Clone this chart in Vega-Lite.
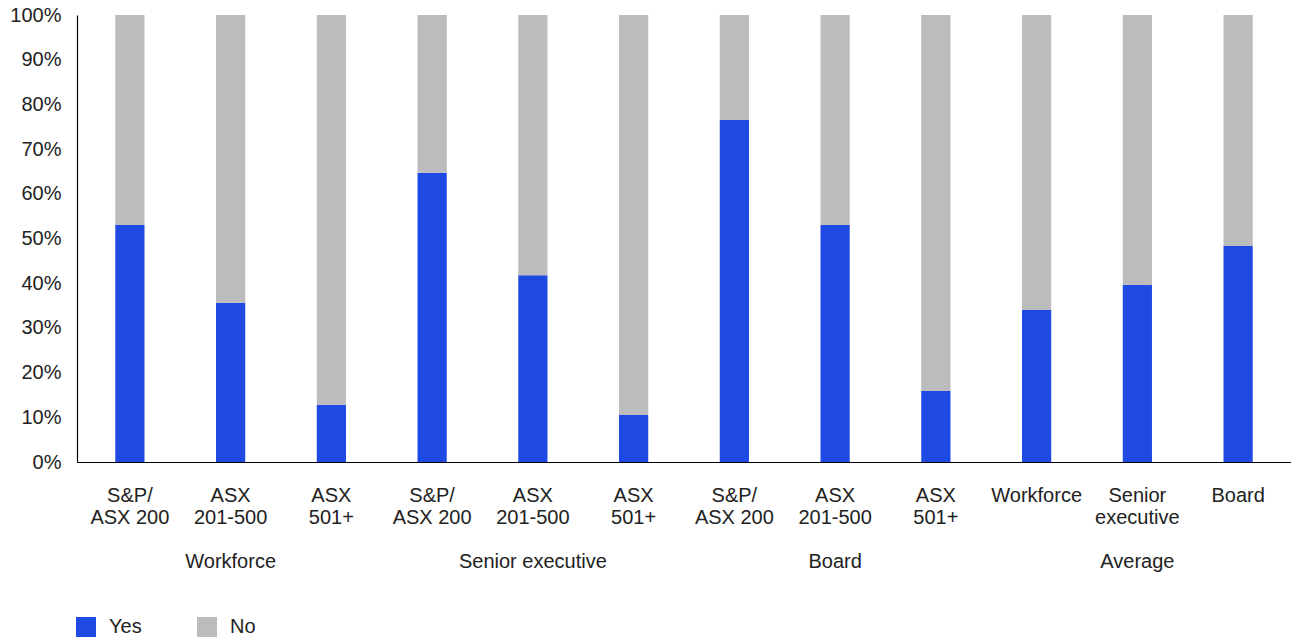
{
  "$schema": "https://vega.github.io/schema/vega-lite/v6.json",
  "width": 1214,
  "height": 447,
  "autosize": {"type": "none"},
  "padding": {"left": 77, "top": 15, "right": 0, "bottom": 177},
  "background": "white",
  "config": {
    "view": {"stroke": null},
    "font": "Liberation Sans",
    "axis": {"labelFont": "Liberation Sans", "labelFontSize": 20, "labelColor": "#222222", "domainColor": "#000000", "domainWidth": 1.2, "ticks": false, "grid": false, "title": null},
    "legend": {"labelFont": "Liberation Sans", "labelFontSize": 20, "labelColor": "#222222"}
  },
  "data": {
    "values": [
      {"k": "1", "answer": "Yes", "ord": 1, "v": 0.530},
      {"k": "1", "answer": "No", "ord": 2, "v": 0.470},
      {"k": "2", "answer": "Yes", "ord": 1, "v": 0.356},
      {"k": "2", "answer": "No", "ord": 2, "v": 0.644},
      {"k": "3", "answer": "Yes", "ord": 1, "v": 0.128},
      {"k": "3", "answer": "No", "ord": 2, "v": 0.872},
      {"k": "4", "answer": "Yes", "ord": 1, "v": 0.647},
      {"k": "4", "answer": "No", "ord": 2, "v": 0.353},
      {"k": "5", "answer": "Yes", "ord": 1, "v": 0.418},
      {"k": "5", "answer": "No", "ord": 2, "v": 0.582},
      {"k": "6", "answer": "Yes", "ord": 1, "v": 0.105},
      {"k": "6", "answer": "No", "ord": 2, "v": 0.895},
      {"k": "7", "answer": "Yes", "ord": 1, "v": 0.765},
      {"k": "7", "answer": "No", "ord": 2, "v": 0.235},
      {"k": "8", "answer": "Yes", "ord": 1, "v": 0.530},
      {"k": "8", "answer": "No", "ord": 2, "v": 0.470},
      {"k": "9", "answer": "Yes", "ord": 1, "v": 0.159},
      {"k": "9", "answer": "No", "ord": 2, "v": 0.841},
      {"k": "10", "answer": "Yes", "ord": 1, "v": 0.340},
      {"k": "10", "answer": "No", "ord": 2, "v": 0.660},
      {"k": "11", "answer": "Yes", "ord": 1, "v": 0.396},
      {"k": "11", "answer": "No", "ord": 2, "v": 0.604},
      {"k": "12", "answer": "Yes", "ord": 1, "v": 0.483},
      {"k": "12", "answer": "No", "ord": 2, "v": 0.517}
    ]
  },
  "mark": {"type": "bar"},
  "encoding": {
    "x": {
      "field": "k",
      "type": "nominal",
      "sort": null,
      "scale": {"paddingInner": 0.71, "paddingOuter": 0.38},
      "axis": {
        "labelAngle": 0,
        "labelPadding": 23,
        "labelLineHeight": 22,
        "labelBaseline": "top",
        "labelAlign": "center",
        "labelExpr": "[['S&P/','ASX 200'],['ASX','201-500','\u200b','Workforce'],['ASX','501+'],['S&P/','ASX 200'],['ASX','201-500','\u200b','Senior executive'],['ASX','501+'],['S&P/','ASX 200'],['ASX','201-500','\u200b','Board'],['ASX','501+'],['Workforce'],['Senior','executive','\u200b','Average'],['Board']][toNumber(datum.value)-1]"
      }
    },
    "y": {
      "field": "v",
      "type": "quantitative",
      "stack": "zero",
      "scale": {"domain": [0, 1], "nice": false},
      "axis": {"format": ".0%", "values": [0, 0.1, 0.2, 0.3, 0.4, 0.5, 0.6, 0.7, 0.8, 0.9, 1], "labelPadding": 16}
    },
    "order": {"field": "ord", "type": "quantitative"},
    "color": {
      "field": "answer",
      "type": "nominal",
      "scale": {"domain": ["Yes", "No"], "range": ["#1E49E2", "#BCBCBE"]},
      "legend": {
        "title": null,
        "orient": "none",
        "legendX": -1,
        "legendY": 602,
        "direction": "horizontal",
        "symbolType": "square",
        "symbolSize": 400,
        "symbolStrokeWidth": 0,
        "labelOffset": 13,
        "columnPadding": 55,
        "gridAlign": "all",
        "padding": 0
      }
    }
  }
}
